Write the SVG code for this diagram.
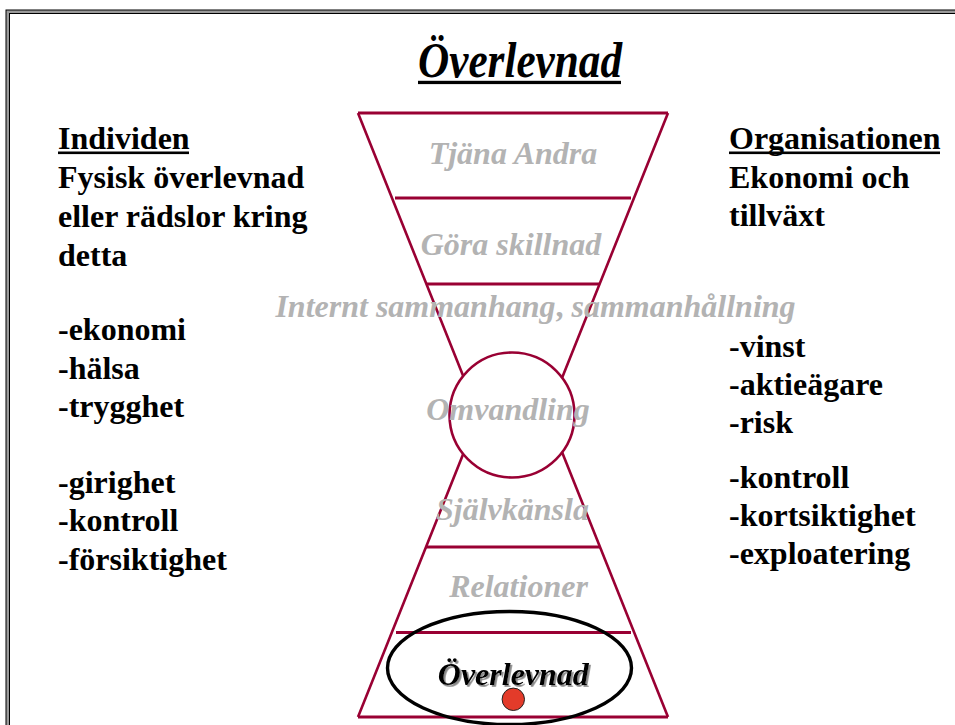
<svg xmlns="http://www.w3.org/2000/svg" width="955" height="725" viewBox="0 0 955 725">
<defs>
<filter id="shadow" x="-10%" y="-30%" width="130%" height="160%">
<feDropShadow dx="1.8" dy="1.8" stdDeviation="0.6" flood-color="#888" flood-opacity="1"/>
</filter>
</defs>
<style>
text{font-family:'Liberation Serif','Times New Roman',serif;font-weight:bold;font-size:32px}
.t{fill:#000}
.title{font-size:50px;font-style:italic}
.g{font-style:italic;fill:#B3B3B3;text-anchor:middle}
.h{stroke:#990033;stroke-width:3.2;fill:none}
.s{stroke:#990033;stroke-width:2.6;fill:none}
.ul{fill:#000}
</style>
<rect width="955" height="725" fill="#fff"/>
<g id="frame">
<rect x="7.5" y="11.5" width="1000" height="800" fill="none" stroke="#9a9a9a" stroke-width="3"/>
<rect x="6" y="10" width="1000" height="800" fill="none" stroke="#000" stroke-width="1"/>
<rect x="9.5" y="13.5" width="1000" height="800" fill="none" stroke="#000" stroke-width="1"/>
</g>
<g id="title">
<text class="t title" x="418" y="77" textLength="204" lengthAdjust="spacingAndGlyphs">Överlevnad</text>
<rect class="ul" x="418" y="80.8" width="203" height="3.3"/>
</g>
<g id="individen">
<text class="t" x="58" y="149">Individen</text>
<rect class="ul" x="58" y="151.5" width="131" height="2.6"/>
<text class="t" x="58" y="188">Fysisk överlevnad</text>
<text class="t" x="58" y="227">eller rädslor kring</text>
<text class="t" x="58" y="266">detta</text>
<text class="t" x="58" y="340">-ekonomi</text>
<text class="t" x="58" y="378.5">-hälsa</text>
<text class="t" x="58" y="417">-trygghet</text>
<text class="t" x="58" y="493">-girighet</text>
<text class="t" x="58" y="531">-kontroll</text>
<text class="t" x="58" y="570">-försiktighet</text>
</g>
<g id="organisationen">
<text class="t" x="729" y="149">Organisationen</text>
<rect class="ul" x="729" y="151.5" width="211" height="2.6"/>
<text class="t" x="729" y="188">Ekonomi och</text>
<text class="t" x="729" y="226">tillväxt</text>
<text class="t" x="729" y="357">-vinst</text>
<text class="t" x="729" y="395">-aktieägare</text>
<text class="t" x="729" y="433">-risk</text>
<text class="t" x="729" y="488">-kontroll</text>
<text class="t" x="729" y="526">-kortsiktighet</text>
<text class="t" x="729" y="564">-exploatering</text>
</g>
<g id="connectors">
<line class="s" x1="358" y1="113" x2="480" y2="418"/>
<line class="s" x1="668" y1="113" x2="546" y2="418"/>
<line class="s" x1="358" y1="717" x2="480" y2="412"/>
<line class="s" x1="668" y1="717" x2="546" y2="412"/>
</g>
<g id="hourglass">
<line class="h" x1="358" y1="113" x2="668" y2="113"/>
<line class="h" x1="395" y1="198" x2="631" y2="198"/>
<line class="h" x1="427" y1="284" x2="599" y2="284"/>
<line class="h" x1="426" y1="547" x2="600" y2="547"/>
<line class="h" x1="396" y1="632.5" x2="631" y2="632.5"/>
<line class="h" x1="358" y1="717" x2="668" y2="717"/>
<circle id="omvandling-circle" cx="512" cy="415" r="62.5" fill="#fff" stroke="#990033" stroke-width="2.6"/>
</g>
<g id="labels">
<text class="g" x="513" y="164">Tjäna Andra</text>
<text class="g" x="511" y="255">Göra skillnad</text>
<text class="g" x="535.5" y="317">Internt sammanhang<tspan font-style="normal">,</tspan> sammanhållning</text>
<text class="g" x="508" y="420">Omvandling</text>
<text class="g" x="512.5" y="519.5">Självkänsla</text>
<text class="g" x="518.5" y="596.5">Relationer</text>
</g>
<g id="overlevnad-node">
<ellipse cx="509.5" cy="668" rx="122" ry="56.5" fill="none" stroke="#000" stroke-width="3.4"/>
<text class="g" x="513.3" y="685" style="fill:#000" filter="url(#shadow)">Överlevnad</text>
<circle cx="513.3" cy="699.3" r="11.2" fill="#E33B2A" stroke="#222" stroke-width="1"/>
</g>
</svg>
